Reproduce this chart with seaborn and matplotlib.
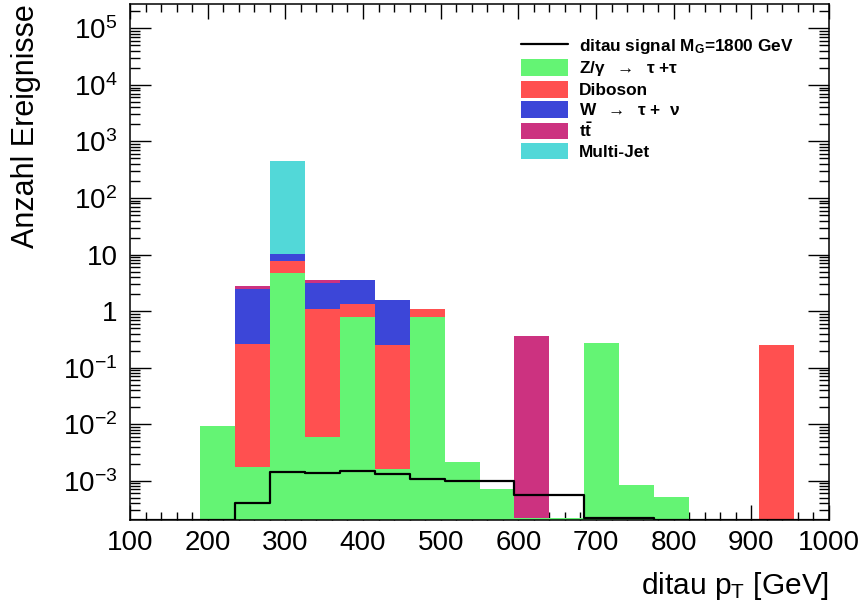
import numpy as np
import pandas as pd
import matplotlib
matplotlib.use("Agg")
import matplotlib.pyplot as plt
import seaborn as sns
from matplotlib.lines import Line2D
from matplotlib.patches import Patch
from matplotlib.ticker import FixedLocator, LogLocator, FuncFormatter, MultipleLocator, NullFormatter

# ---- binning and per-process event yields ------------------------------
bin_edges = [100, 145, 190, 235, 280, 325, 370, 415, 460, 505, 550,
             595, 640, 685, 730, 775, 820, 865, 910, 955, 1000]

z_tautau = [0, 0, 0.0094, 0.00173, 4.76, 0.00586, 0.774, 0.00159, 0.784, 0.00217,
            0.000713, 0.000216, 0.000216, 0.277, 0.00085, 0.000508, 0, 0, 0, 0]
diboson = [0, 0, 0, 0.264, 3.08, 1.064, 0.576, 0.248, 0.286, 0,
           0, 0, 0, 0, 0, 0, 0, 0, 0.25, 0]
w_taunu = [0, 0, 0, 2.21, 2.56, 2.10, 2.27, 1.31, 0, 0,
           0, 0, 0, 0, 0, 0, 0, 0, 0, 0]
ttbar = [0, 0, 0, 0.28, 0, 0.41, 0, 0, 0, 0,
         0, 0.36, 0, 0, 0, 0, 0, 0, 0, 0]
multijet = [0, 0, 0, 0, 432, 0, 0, 0, 0, 0,
            0, 0, 0, 0, 0, 0, 0, 0, 0, 0]
signal = [0, 0, 0, 4.08e-4, 1.44e-3, 1.37e-3, 1.50e-3, 1.31e-3, 1.08e-3, 1.0e-3,
          1.0e-3, 5.58e-4, 5.58e-4, 2.21e-4, 2.21e-4, 0, 0, 0, 0, 0]

process_names = [r"Z/$\mathregular{\gamma}$  $\rightarrow$  $\mathregular{\tau}$ +$\mathregular{\tau}$",
                 "Diboson",
                 r"W  $\rightarrow$  $\mathregular{\tau}$ +  $\mathregular{\nu}$",
                 r"$\mathbf{t\bar{t}}$",
                 "Multi-Jet"]
process_yields = [z_tautau, diboson, w_taunu, ttbar, multijet]
process_colors = ["#64f474", "#ff5050", "#3c46d8", "#cc3280", "#52d8d8"]
signal_label = r"ditau signal M$_\mathbf{G}$=1800 GeV"

y_min, y_max = 2.02e-4, 2.7e5
decades = [1e-3, 1e-2, 1e-1, 1, 10, 1e2, 1e3, 1e4, 1e5]

# ---- style ----------------------------------------------------------------
sns.set_style("ticks")
plt.rcParams["font.family"] = ["Liberation Sans", "DejaVu Sans"]
plt.rcParams["mathtext.fontset"] = "custom"
plt.rcParams["mathtext.rm"] = "Liberation Sans"
plt.rcParams["mathtext.it"] = "Liberation Sans:italic"
plt.rcParams["mathtext.bf"] = "Liberation Sans:bold"
plt.rcParams["axes.linewidth"] = 1.1
for key in ["text.color", "axes.labelcolor", "axes.edgecolor", "xtick.color", "ytick.color"]:
    plt.rcParams[key] = "black"

edges = np.array(bin_edges, dtype=float)
centers = 0.5 * (edges[:-1] + edges[1:])

frames = []
for name, vals in zip(process_names, process_yields):
    frames.append(pd.DataFrame({"pt": centers, "w": vals, "process": name}))
df = pd.concat(frames, ignore_index=True)

fig = plt.figure(figsize=(8.65, 6.14), dpi=100)
ax = fig.add_axes([130 / 865, 1 - 520 / 614, 699 / 865, 516 / 614])

# stacked backgrounds, first process at the bottom
sns.histplot(data=df, x="pt", weights="w", hue="process",
             hue_order=process_names[::-1],
             palette=dict(zip(process_names, process_colors)),
             multiple="stack", bins=list(bin_edges), element="bars",
             linewidth=0, alpha=1, legend=False, ax=ax)

# signal outline; empty bins sit on the lower edge of the log axis
sig_df = pd.DataFrame({"pt": centers, "w": np.maximum(signal, y_min * 1.01)})
sns.histplot(data=sig_df, x="pt", weights="w", bins=list(bin_edges), element="step",
             fill=False, color="black", linewidth=1.6, ax=ax)

ax.set_yscale("log")
ax.set_xlim(100, 1000)
ax.set_ylim(y_min, y_max)

# ROOT-like axes: ticks inside on all four sides
ax.xaxis.set_major_locator(MultipleLocator(100))
ax.xaxis.set_minor_locator(MultipleLocator(20))
ax.yaxis.set_major_locator(FixedLocator(decades))
ax.yaxis.set_minor_locator(LogLocator(base=10, subs=np.arange(2, 10), numticks=20))
ax.yaxis.set_minor_formatter(NullFormatter())


def log_label(v, pos):
    e = int(round(np.log10(v)))
    if e == 0:
        return "1"
    if e == 1:
        return "10"
    return r"$\mathregular{10^{%d}}$" % e


ax.yaxis.set_major_formatter(FuncFormatter(log_label))
ax.tick_params(axis="both", which="both", direction="in", top=True, right=True,
               width=1.0, labelsize=20, color="black", labelcolor="black")
ax.tick_params(axis="x", which="major", length=11, pad=7)
ax.tick_params(axis="x", which="minor", length=5.5)
ax.tick_params(axis="y", which="major", length=15, pad=9)
ax.tick_params(axis="y", which="minor", length=7.5)

ax.set_xlabel(r"ditau p$_\mathregular{T}$ [GeV]", fontsize=21.5, loc="right")
ax.xaxis.set_label_coords(1.0, -0.096)
ax.set_ylabel("Anzahl Ereignisse", fontsize=22, loc="top")
ax.yaxis.set_label_coords(-0.127, 1.0)

handles = [Line2D([0], [0], color="black", lw=1.6)]
handles += [Patch(facecolor=c, edgecolor="none") for c in process_colors]
labels = [signal_label] + process_names
ax.legend(handles, labels, loc="upper left", bbox_to_anchor=(521 / 865, 1 - 37 / 614),
          bbox_transform=fig.transFigure, frameon=False, borderpad=0, borderaxespad=0,
          prop={"weight": "bold", "size": 12.4}, handlelength=2.75, handleheight=1.1,
          handletextpad=0.62, labelspacing=0.17)

fig.savefig("out.png", dpi=100)
